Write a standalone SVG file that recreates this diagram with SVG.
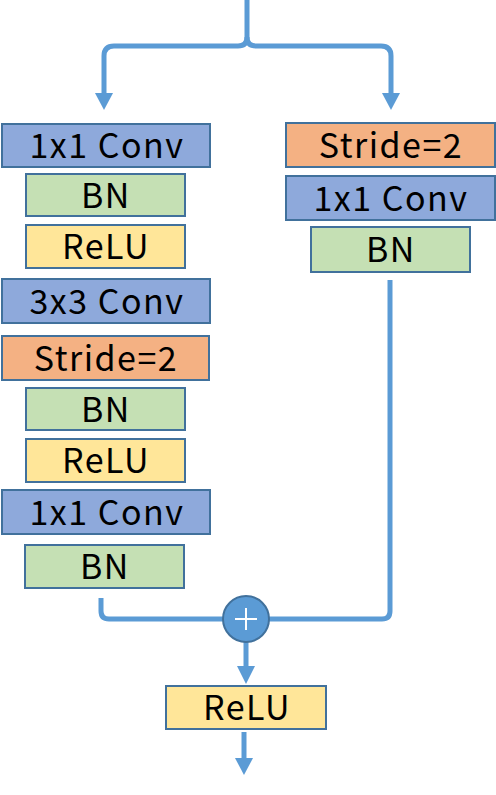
<svg xmlns="http://www.w3.org/2000/svg" width="496" height="795" viewBox="0 0 496 795">
<style>
rect.n{stroke:#41719C;stroke-width:2}
.conv{fill:#8EA9DB}.bn{fill:#C5E0B4}.relu{fill:#FFE699}.stride{fill:#F4B183}
text{font-family:"Noto Sans CJK JP","Noto Sans",sans-serif;font-size:34px;font-weight:400;letter-spacing:1.5px;fill:#000;text-anchor:middle;dominant-baseline:central}
.c{fill:none;stroke:#5B9BD5;stroke-width:5}
.h{fill:#5B9BD5}
</style>
<rect width="496" height="795" fill="#fff"/>
<g id="connectors">
<path class="c" d="M104,95 V56 Q104,46 114,46 H238 Q247,46 247,37 V0"/>
<path class="c" d="M247,37 Q247,46 256,46 H381 Q391,46 391,56 V95"/>
<polygon class="h" points="95,93 113,93 104,110"/>
<polygon class="h" points="382,93 400,93 391,110"/>
<path class="c" d="M101,598 V611 Q101,619 109,619 H224"/>
<path class="c" d="M390,280 V611 Q390,619 382,619 H268"/>
<path class="c" d="M246,641 V668"/>
<polygon class="h" points="237,666 255,666 246,684"/>
<path class="c" d="M244,732 V760"/>
<polygon class="h" points="235,758 253,758 244,775"/>
</g>
<g id="l1"><rect class="n conv" x="2" y="124" width="208" height="43"/><text x="107" y="143">1x1 Conv</text></g>
<g id="l2"><rect class="n bn" x="26" y="174" width="159" height="42"/><text x="106" y="193">BN</text></g>
<g id="l3"><rect class="n relu" x="26" y="225" width="159" height="43"/><text x="106" y="244">ReLU</text></g>
<g id="l4"><rect class="n conv" x="2" y="279" width="208" height="44"/><text x="107" y="299">3x3 Conv</text></g>
<g id="l5"><rect class="n stride" x="2" y="336" width="207" height="44"/><text x="106" y="356">Stride=2</text></g>
<g id="l6"><rect class="n bn" x="26" y="388" width="159" height="42"/><text x="106" y="407">BN</text></g>
<g id="l7"><rect class="n relu" x="26" y="439" width="159" height="43"/><text x="106" y="458">ReLU</text></g>
<g id="l8"><rect class="n conv" x="2" y="490" width="208" height="44"/><text x="107" y="510">1x1 Conv</text></g>
<g id="l9"><rect class="n bn" x="25" y="545" width="159" height="43"/><text x="105" y="564">BN</text></g>
<g id="r1"><rect class="n stride" x="286" y="123" width="209" height="44"/><text x="391" y="143">Stride=2</text></g>
<g id="r2"><rect class="n conv" x="286" y="176" width="209" height="44"/><text x="391" y="196">1x1 Conv</text></g>
<g id="r3"><rect class="n bn" x="311" y="227" width="159" height="45"/><text x="391" y="247">BN</text></g>
<g id="add"><circle cx="246" cy="619" r="23" fill="#5B9BD5" stroke="#41719C" stroke-width="2"/><path d="M235,619 H257 M246,608 V630" stroke="#fff" stroke-width="2"/></g>
<g id="out"><rect class="n relu" x="166" y="686" width="160" height="43"/><text x="247" y="705">ReLU</text></g>
</svg>
